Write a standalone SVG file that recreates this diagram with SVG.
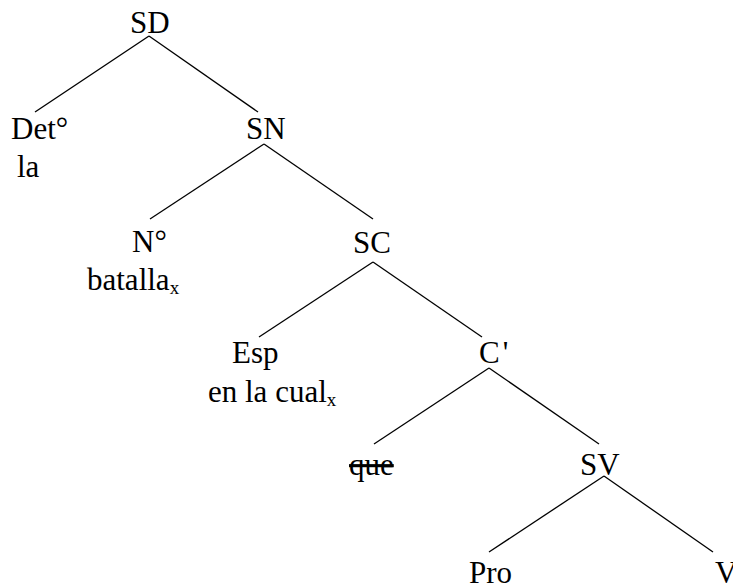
<svg xmlns="http://www.w3.org/2000/svg" width="733" height="585" viewBox="0 0 733 585">
<style>
text { font-family: "Liberation Serif", "Times New Roman", Tinos, "DejaVu Serif", serif; font-size: 31px; fill: #000; }
.sub { font-size: 19px; }
line { stroke: #000; stroke-width: 1.3; }
</style>
<rect width="733" height="585" fill="#fff"/>
<g id="connectors">
<line x1="149" y1="36" x2="35" y2="112"/>
<line x1="149" y1="36" x2="258" y2="112"/>
<line x1="264" y1="144" x2="150" y2="219"/>
<line x1="264" y1="144" x2="373" y2="219"/>
<line x1="373" y1="262" x2="259" y2="337"/>
<line x1="373" y1="262" x2="482" y2="337"/>
<line x1="489" y1="368" x2="374" y2="444"/>
<line x1="489" y1="368" x2="599" y2="444"/>
<line x1="604" y1="476" x2="489" y2="552"/>
<line x1="604" y1="476" x2="713" y2="552"/>
</g>
<g font-family="Liberation Serif, Times New Roman, serif">
<g id="SD"><text x="130" y="33">SD</text></g>
<g id="Det"><text x="11" y="139">Det°</text><text x="17" y="177">la</text></g>
<g id="SN"><text x="246" y="139">SN</text></g>
<g id="N"><text x="132" y="252">N°</text><text x="87" y="290">batalla<tspan class="sub" dy="4">x</tspan></text></g>
<g id="SC"><text x="353" y="253">SC</text></g>
<g id="Esp"><text x="232" y="363">Esp</text><text x="208" y="402">en la cual<tspan class="sub" dy="4">x</tspan></text></g>
<g id="Cbar"><text x="479" y="363">C<tspan dx="3">'</tspan></text></g>
<g id="que"><text x="349" y="475" text-decoration="line-through">que</text></g>
<g id="SV"><text x="580" y="475">SV</text></g>
<g id="Pro"><text x="469" y="583">Pro</text></g>
<g id="V"><text x="715" y="583">V</text></g>
</g>
</svg>
